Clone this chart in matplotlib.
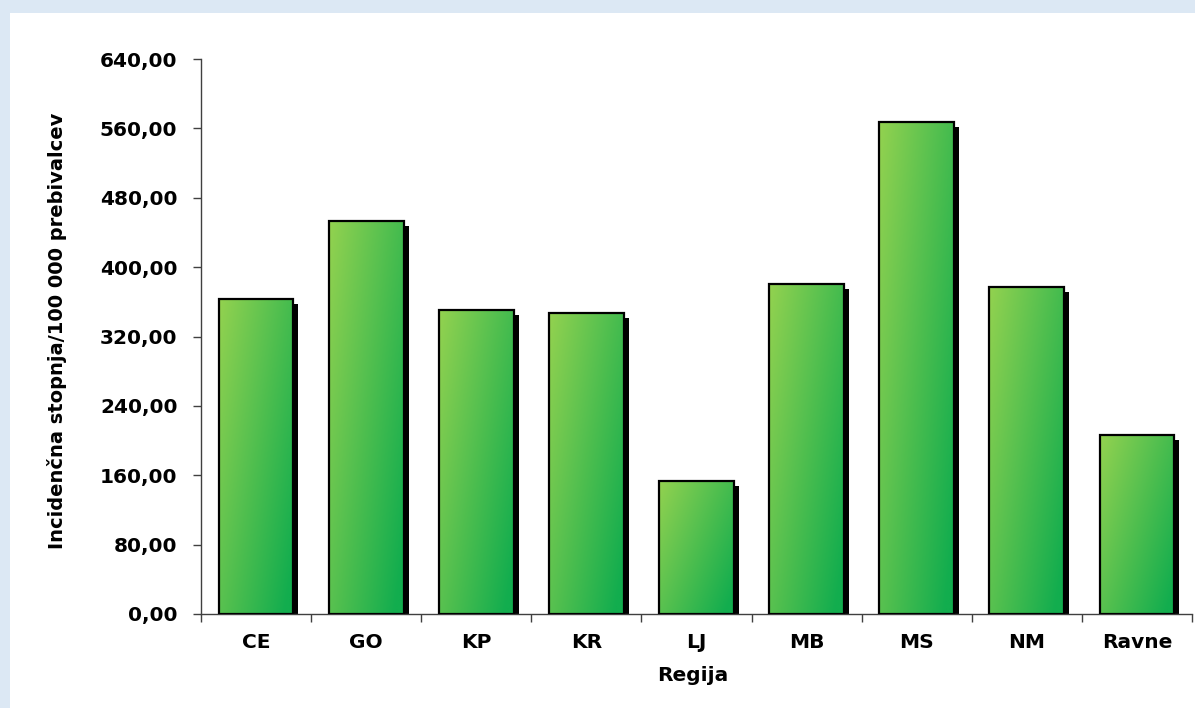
import matplotlib

matplotlib.use("Agg")
import matplotlib.pyplot as plt
import numpy as np
from matplotlib.patches import Rectangle
from matplotlib.ticker import FixedLocator, FuncFormatter, MultipleLocator
from matplotlib.transforms import offset_copy

regions = ["CE", "GO", "KP", "KR", "LJ", "MB", "MS", "NM", "Ravne"]
incidence = [363.2, 453.2, 350.6, 347.1, 153.4, 380.5, 567.3, 377.1, 206.4]

y_label = "Incidenčna stopnja/100 000 prebivalcev"
x_label = "Regija"

LIGHT = np.array([0x93, 0xD2, 0x50]) / 255
DARK = np.array([0x12, 0xAD, 0x4E]) / 255
BG = "#DCE8F4"

plt.rcParams["font.family"] = ["DejaVu Sans"]

fig = plt.figure(figsize=(11.95, 7.08), dpi=100, facecolor=BG)
# white panel over the light blue frame
fig.patches.append(Rectangle((10 / 1195, 0), 1, 1 - 13 / 708,
                             transform=fig.transFigure, facecolor="white",
                             edgecolor="none", zorder=-5))
ax = fig.add_axes([201 / 1195, 1 - 614 / 708, 991 / 1195, 555 / 708])
ax.set_facecolor("none")
ax.set_zorder(1)

x = np.arange(len(regions))
width = 0.68

# diagonal green gradient, light top-left to dark bottom-right
u, v = np.meshgrid(np.linspace(0, 1, 64), np.linspace(0, 1, 128))
t = np.clip(0.62 * u + 0.45 * v, 0, 1)[..., None]
grad = LIGHT * (1 - t) + DARK * t

shadow_tr = offset_copy(ax.transData, fig=fig, x=5, y=-5, units="dots")
bars = ax.bar(x, incidence, width=width, facecolor="none",
              edgecolor="black", linewidth=1.6, zorder=4)
for bar in bars:
    x0, h = bar.get_x(), bar.get_height()
    ax.add_patch(Rectangle((x0, 0), width, h, facecolor="black",
                           edgecolor="none", transform=shadow_tr, zorder=2))
    im = ax.imshow(grad, extent=(x0, x0 + width, 0, h), origin="upper",
                   aspect="auto", interpolation="bilinear", zorder=3)
    im.set_clip_path(bar)

ax.set_xlim(-0.5, len(regions) - 0.5)
ax.set_ylim(0, 640)

ax.yaxis.set_major_locator(MultipleLocator(80))
ax.yaxis.set_major_formatter(FuncFormatter(lambda v, _: f"{v:.2f}".replace(".", ",")))
ax.xaxis.set_major_locator(FixedLocator(np.arange(len(regions) + 1) - 0.5))
ax.xaxis.set_minor_locator(FixedLocator(x))
ax.set_xticklabels([], minor=False)
ax.set_xticklabels(regions, minor=True)

ax.tick_params(axis="y", direction="out", length=6, width=1, color="#404040",
               pad=11, labelsize=14.5)
ax.tick_params(axis="x", which="major", direction="out", length=6, width=1,
               color="#404040")
ax.tick_params(axis="x", which="minor", length=0, pad=14, labelsize=14.5)
for lbl in ax.get_yticklabels() + ax.get_xticklabels(minor=True):
    lbl.set_fontweight("bold")

for side in ("top", "right"):
    ax.spines[side].set_visible(False)
for side in ("left", "bottom"):
    ax.spines[side].set_color("#404040")
    ax.spines[side].set_linewidth(1)

ax.set_ylabel(y_label, fontsize=14, fontweight="bold")
ax.yaxis.set_label_coords(-0.135, 0.51)
ax.set_xlabel(x_label, fontsize=14.5, fontweight="bold")
ax.xaxis.set_label_coords(0.496, -0.094)

fig.savefig("out.png", dpi=100, facecolor=fig.get_facecolor())
